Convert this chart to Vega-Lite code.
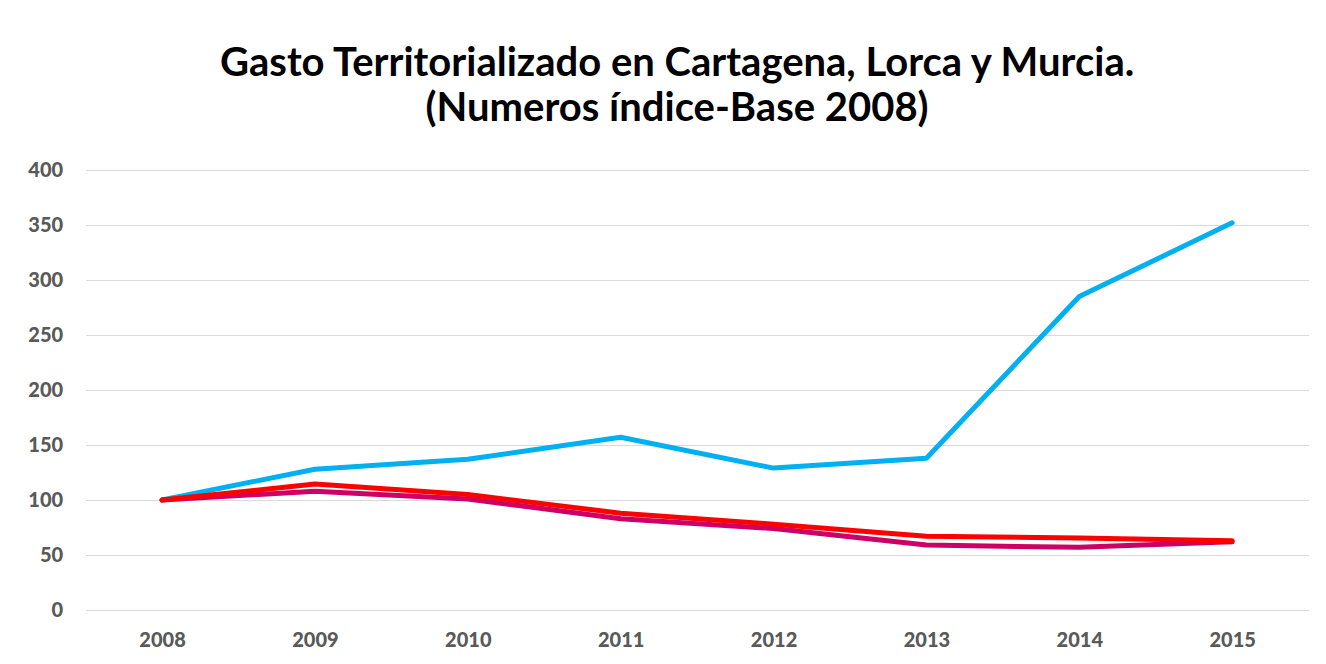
{
  "$schema": "https://vega.github.io/schema/vega-lite/v6.json",
  "width": 1223,
  "height": 440,
  "autosize": {"type": "none"},
  "padding": {"left": 85.6, "top": 170, "right": 17.4, "bottom": 54},
  "background": "white",
  "title": {
    "text": ["Gasto Territorializado en Cartagena, Lorca y Murcia.", "(Numeros índice-Base 2008)"],
    "font": "Lato",
    "fontWeight": "bold",
    "fontSize": 40,
    "color": "#000000",
    "lineHeight": 45,
    "anchor": "middle",
    "dx": -20,
    "offset": 31
  },
  "data": {
    "values": [
      {"year": "2008", "serie": "Lorca", "valor": 100},
      {"year": "2009", "serie": "Lorca", "valor": 128},
      {"year": "2010", "serie": "Lorca", "valor": 137},
      {"year": "2011", "serie": "Lorca", "valor": 157},
      {"year": "2012", "serie": "Lorca", "valor": 129},
      {"year": "2013", "serie": "Lorca", "valor": 138},
      {"year": "2014", "serie": "Lorca", "valor": 285},
      {"year": "2015", "serie": "Lorca", "valor": 352},
      {"year": "2008", "serie": "Cartagena", "valor": 100},
      {"year": "2009", "serie": "Cartagena", "valor": 108},
      {"year": "2010", "serie": "Cartagena", "valor": 101},
      {"year": "2011", "serie": "Cartagena", "valor": 83},
      {"year": "2012", "serie": "Cartagena", "valor": 74},
      {"year": "2013", "serie": "Cartagena", "valor": 59},
      {"year": "2014", "serie": "Cartagena", "valor": 57},
      {"year": "2015", "serie": "Cartagena", "valor": 62},
      {"year": "2008", "serie": "Murcia", "valor": 100},
      {"year": "2009", "serie": "Murcia", "valor": 114.5},
      {"year": "2010", "serie": "Murcia", "valor": 105},
      {"year": "2011", "serie": "Murcia", "valor": 88},
      {"year": "2012", "serie": "Murcia", "valor": 78},
      {"year": "2013", "serie": "Murcia", "valor": 67},
      {"year": "2014", "serie": "Murcia", "valor": 65.5},
      {"year": "2015", "serie": "Murcia", "valor": 63}
    ]
  },
  "mark": {"type": "line", "strokeWidth": 5, "strokeCap": "round", "strokeJoin": "round"},
  "encoding": {
    "x": {
      "field": "year",
      "type": "ordinal",
      "scale": {"type": "point", "padding": 0.5},
      "axis": {
        "title": null,
        "labelAngle": 0,
        "labelFont": "Lato",
        "labelFontWeight": 900,
        "labelFontSize": 20,
        "labelColor": "#595959",
        "labelPadding": 20,
        "ticks": false,
        "domain": false,
        "grid": false
      }
    },
    "y": {
      "field": "valor",
      "type": "quantitative",
      "scale": {"domain": [0, 400], "nice": false},
      "axis": {
        "title": null,
        "values": [0, 50, 100, 150, 200, 250, 300, 350, 400],
        "labelFont": "Lato",
        "labelFontWeight": 900,
        "labelFontSize": 20,
        "labelColor": "#595959",
        "labelPadding": 23,
        "ticks": false,
        "domain": false,
        "grid": true,
        "gridColor": "#D9D9D9",
        "gridWidth": 1.2
      }
    },
    "color": {
      "field": "serie",
      "type": "nominal",
      "scale": {"domain": ["Lorca", "Cartagena", "Murcia"], "range": ["#00B0F0", "#CC0066", "#FF0000"]},
      "legend": null
    }
  },
  "config": {"view": {"stroke": null}}
}
